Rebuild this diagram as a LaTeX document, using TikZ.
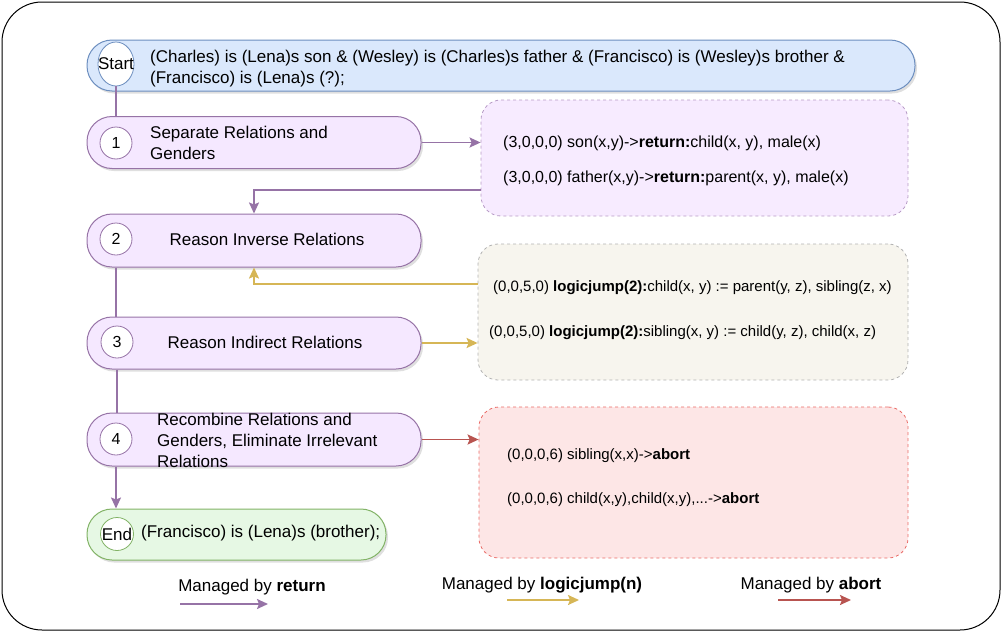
\documentclass[tikz,border=0pt]{standalone}
\usepackage{fontspec}
\setmainfont{Liberation Sans}
\usepackage{xcolor}
\usepackage{tikz}
\usetikzlibrary{arrows.meta,shadows,shapes.geometric}

\definecolor{rpurple}{HTML}{9673A6}
\definecolor{rpill}{HTML}{F5E8FF}
\definecolor{rboxline}{HTML}{B79BC6}
\definecolor{rboxfill}{HTML}{F7EBFF}
\definecolor{bluefill}{HTML}{DAE8FC}
\definecolor{blueline}{HTML}{6C8EBF}
\definecolor{greenfill}{HTML}{E6F8E4}
\definecolor{greenline}{HTML}{82B366}
\definecolor{jyellow}{HTML}{D6B656}
\definecolor{jfill}{HTML}{F7F5EE}
\definecolor{ared}{HTML}{B85450}
\definecolor{afill}{HTML}{FDE6E6}
\definecolor{aline}{HTML}{EA6B66}

\tikzset{
  pill/.style={rectangle,rounded corners=25pt,draw,line width=1pt,
    drop shadow={shadow xshift=2pt,shadow yshift=-2.5pt,opacity=0.25}},
  stepbox/.style={pill,draw=rpurple,fill=rpill,minimum width=334pt,minimum height=52pt},
  num/.style={circle,draw=rpurple,fill=white,line width=0.8pt,minimum size=32pt,inner sep=0pt},
  rulebox/.style={rectangle,rounded corners=20pt,dashed,line width=0.8pt},
  txt/.style={inner sep=0pt,align=left,font=\fontsize{17}{21}\selectfont},
  ruletxt/.style={txt,anchor=west,font=\fontsize{15}{19}\selectfont},
  flow/.style={line width=1.8pt,-{Stealth[length=11pt,width=10pt,inset=2pt]}},
}

\begin{document}
\begin{tikzpicture}[x=1pt,y=-1pt]
\useasboundingbox (0,0) rectangle (1002,632);
\draw[line width=1pt,rounded corners=40pt] (2,2) rectangle (1000,630);

\node (S0)[pill,draw=blueline,fill=bluefill,minimum width=828pt,minimum height=51pt] at (501,65.5){};
\node (S1)[stepbox] at (254,142.5){};
\node (S2)[stepbox,minimum height=53pt] at (254,240.5){};
\node (S3)[stepbox] at (254,343){};
\node (S4)[stepbox,minimum height=53pt] at (254,439.5){};
\node (SE)[pill,draw=greenline,fill=greenfill,minimum width=299pt,minimum height=51pt] at (236.5,534.5){};

\node (B1)[rulebox,draw=rboxline,fill=rboxfill,minimum width=427pt,minimum height=116pt] at (694.5,158){};
\node (B2)[rulebox,draw=black!30,fill=jfill,minimum width=430pt,minimum height=136pt] at (693,312){};
\node (B3)[rulebox,draw=aline,fill=afill,minimum width=429pt,minimum height=151pt] at (693.5,482.5){};

\node (C0)[ellipse,draw=blueline,fill=white,line width=0.8pt,minimum width=36pt,minimum height=44pt,inner sep=0pt] at (116,64){};
\node[txt] at (C0){Start};
\node (C1)[num] at (116,143){\fontsize{16}{20}\selectfont 1};
\node (C2)[num] at (116,239){\fontsize{16}{20}\selectfont 2};
\node (C3)[num] at (117,342){\fontsize{16}{20}\selectfont 3};
\node (C4)[num] at (116,439){\fontsize{16}{20}\selectfont 4};
\node (CE)[circle,draw=greenline,fill=white,line width=0.8pt,minimum size=33pt,inner sep=0pt] at (117,534){};
\node[txt] at (CE){End};

\node (T0)[txt,anchor=west] at (150,69){(Charles) is (Lena)s son \& (Wesley) is (Charles)s father \& (Francisco) is (Wesley)s brother \&\\(Francisco) is (Lena)s (?);};
\node (T1)[txt,anchor=west] at (150,143){Separate Relations and\\Genders};
\node (T2)[txt] at (267,239){Reason Inverse Relations};
\node (T3)[txt] at (265,342){Reason Indirect Relations};
\node (T4)[txt,anchor=west] at (157,440){Recombine Relations and\\Genders, Eliminate Irrelevant\\Relations};
\node (TE)[txt,anchor=west] at (141,533){(Francisco) is (Lena)s (brother);};

\node (R1)[ruletxt,font=\fontsize{16}{20}\selectfont] at (503,143){(3,0,0,0) son(x,y)->\textbf{return:}child(x, y), male(x)};
\node (R2)[ruletxt,font=\fontsize{16}{20}\selectfont] at (503,178){(3,0,0,0) father(x,y)->\textbf{return:}parent(x, y), male(x)};
\node (J1)[ruletxt] at (493,288){(0,0,5,0) \textbf{logicjump(2):}child(x, y) := parent(y, z), sibling(z, x)};
\node (J2)[ruletxt] at (489,333){(0,0,5,0) \textbf{logicjump(2):}sibling(x, y) := child(y, z), child(x, z)};
\node (A1)[ruletxt] at (507,456){(0,0,0,6) sibling(x,x)->\textbf{abort}};
\node (A2)[ruletxt] at (507,500){(0,0,0,6) child(x,y),child(x,y),...->\textbf{abort}};

\draw[rpurple,line width=1.8pt] (C0.south) -- (C0.south |- S1.north);
\draw[rpurple,line width=1.8pt] (S2.south -| C2) -- (S3.north -| C2);
\draw[rpurple,line width=1.8pt] (S3.south -| C3) -- (S4.north -| C3);
\draw[rpurple,flow] (S4.south -| C4) -- (SE.north -| C4);

\draw[rpurple,flow] (S1.east) -- (S1.east -| B1.west);
\coordinate (b1out) at (481,190);
\draw[rpurple,flow] (b1out) -| (S2.north);

\coordinate (b2out) at (478,284);
\draw[jyellow,flow] (b2out) -| (S2.south);
\draw[jyellow,flow] (S3.east) -- (S3.east -| B2.west);

\draw[ared,flow] (S4.east) -- (S4.east -| B3.west);

\node (L1)[txt] at (252,587){Managed by \textbf{return}};
\coordinate (l1a) at (180,604);
\coordinate (l1b) at (268,604);
\draw[rpurple,flow] (l1a) -- (l1b);
\node (L2)[txt] at (542,585){Managed by \textbf{logicjump(n)}};
\coordinate (l2a) at (507,600);
\coordinate (l2b) at (579,600);
\draw[jyellow,flow] (l2a) -- (l2b);
\node (L3)[txt] at (811,585){Managed by \textbf{abort}};
\coordinate (l3a) at (778,600);
\coordinate (l3b) at (851,600);
\draw[ared,flow] (l3a) -- (l3b);
\end{tikzpicture}
\end{document}
